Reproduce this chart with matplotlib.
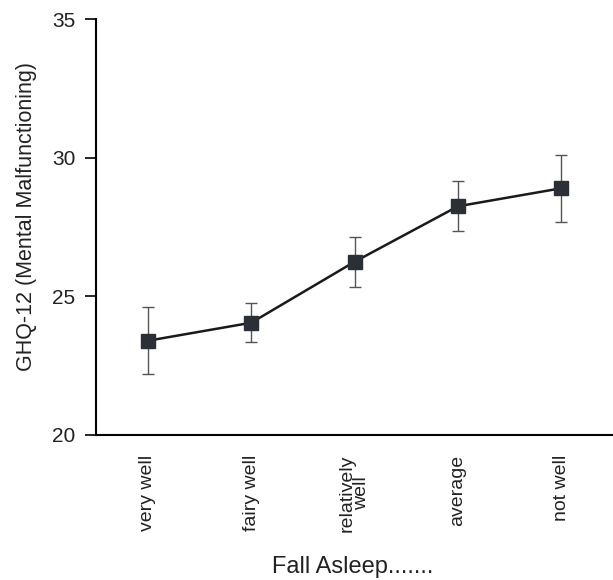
import matplotlib
matplotlib.use("Agg")
import matplotlib.pyplot as plt

categories = ["very well", "fairy well", "relatively\nwell", "average", "not well"]
means = [23.4, 24.05, 26.25, 28.25, 28.9]
errors = [1.2, 0.7, 0.9, 0.9, 1.2]
yticks = [20, 25, 30, 35]

plt.rcParams['font.family'] = ['Liberation Sans', 'DejaVu Sans']

fig = plt.figure(figsize=(6.13, 5.8), dpi=100)
ax = fig.add_axes([0.157, 0.25, 0.843, 0.717])

x = list(range(1, len(categories) + 1))
ax.errorbar(x, means, yerr=errors, fmt='none', ecolor='#555555', elinewidth=1.0,
            capsize=4.3, capthick=1.0, zorder=2)
ax.plot(x, means, color='#1a1a1a', lw=1.8, marker='s', markersize=10,
        markerfacecolor='#2b3036', markeredgecolor='#2b3036', zorder=3)

ax.set_xlim(0.5, 5.5)
ax.set_ylim(20, 35)
ax.set_yticks(yticks)
ax.set_yticklabels([str(v) for v in yticks], fontsize=15, color='#222222')
ax.set_xticks(x)
ax.set_xticklabels(categories, rotation=90, fontsize=14, color='#222222',
                   linespacing=0.8)
ax.tick_params(axis='x', length=0, pad=14)
ax.tick_params(axis='y', length=8, width=1.2, pad=7, direction='out')

for s in ['top', 'right']:
    ax.spines[s].set_visible(False)
ax.spines['left'].set_linewidth(1.5)
ax.spines['bottom'].set_linewidth(1.5)

ax.set_ylabel("GHQ-12 (Mental Malfunctioning)", fontsize=15.5, color='#222222', labelpad=8)
ax.yaxis.set_label_coords(-0.115, 0.525)
fig.text(0.575, 0.022, "Fall Asleep.......", fontsize=17, ha='center', va='center',
         color='#222222')

fig.savefig("out.png", dpi=100)
